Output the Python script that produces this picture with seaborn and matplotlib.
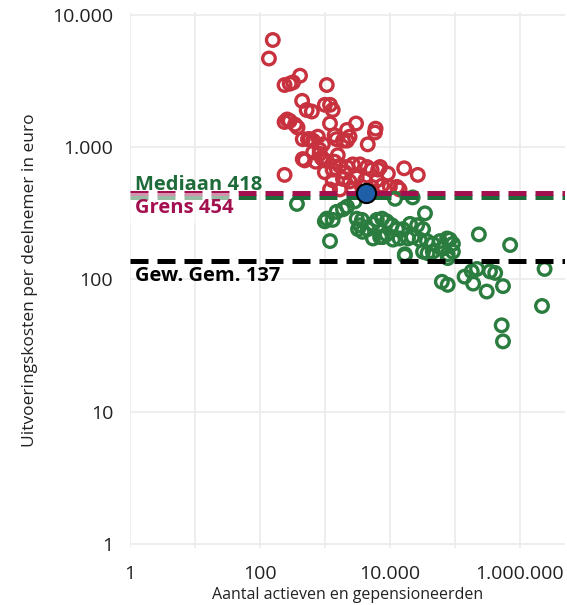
import numpy as np
import pandas as pd
import matplotlib
matplotlib.use("Agg")
import matplotlib.pyplot as plt
import seaborn as sns
from matplotlib.ticker import LogLocator, FuncFormatter, NullFormatter

# fondsen boven de grens (rood)
red_x = [158, 138, 415, 240, 288, 324, 1070, 447, 1000, 1200, 1320, 525, 630,
         263, 240, 288, 347, 380, 1200, 3020, 6030, 2190, 1410, 457, 550, 660,
         933, 832, 2190, 4570, 1580, 457, 891, 1000, 240, 16600, 26900, 6610,
         9330, 12900, 14100, 589, 780, 1510, 1900, 2400, 5890, 490, 832, 933,
         1000, 1320, 1700, 2190, 2690, 3470, 4470, 5250, 7080, 1320, 1900, 2400,
         6310, 7590, 10000, 1200, 1700, 2690, 3090, 4170, 2040, 660, 724, 1410,
         3720, 5250]
red_y = [6460, 4680, 3470, 2950, 3020, 3090, 2950, 2240, 2090, 2090, 1910, 1910,
         1860, 1620, 1550, 1580, 1480, 1410, 1510, 1510, 1380, 1350, 1230, 1150,
         1150, 1120, 1050, 955, 1120, 1050, 870, 813, 832, 794, 617, 692, 617,
         676, 631, 501, 479, 1150, 1200, 1150, 1120, 1200, 1290, 794, 891, 813,
         646, 676, 724, 708, 741, 741, 708, 676, 708, 562, 575, 550, 562, 513,
         501, 479, 479, 479, 589, 562, 646, 912, 776, 776, 501, 501]

# fondsen onder de grens (groen)
green_x = [372, 1070, 1320, 1000, 1200, 1900, 2190, 1510, 3090, 3720, 3470, 3240,
           3800, 4570, 5500, 6310, 7590, 8910, 10700, 12900, 15800, 20400, 26300,
           32400, 34700, 5500, 7080, 8910, 11200, 14100, 19000, 22400, 28800,
           37200, 45700, 58900, 75900, 83200, 93300, 32400, 38000, 45700, 63100,
           77600, 93300, 17000, 2880, 12000, 22400, 7760, 234000, 708000, 17000,
           77600, 63100, 77600, 141000, 182000, 219000, 191000, 347000, 417000,
           309000, 550000, 2400000, 2190000, 525000, 550000]
green_y = [372, 288, 282, 275, 195, 339, 355, 324, 288, 282, 257, 240, 229, 240,
           263, 282, 288, 275, 257, 240, 240, 263, 257, 240, 316, 204, 209, 219,
           200, 204, 204, 209, 200, 195, 186, 195, 204, 200, 186, 162, 158, 162,
           170, 155, 162, 155, 389, 407, 417, 209, 219, 182, 151, 145, 96, 91,
           105, 115, 120, 93, 115, 112, 81, 89, 120, 63, 45, 34]

# het fonds zelf
focus_x = [4270]
focus_y = [454]

mediaan = 418
grens = 454
gew_gem = 137

x_ticks = [1, 10, 100, 1000, 10000, 100000, 1000000]
y_ticks = [1, 10, 100, 1000, 10000]

df = pd.DataFrame({
    "deelnemers": red_x + green_x,
    "kosten": red_y + green_y,
    "groep": ["boven"] * len(red_x) + ["onder"] * len(green_x),
})

sns.set_style("whitegrid")
plt.rcParams["font.family"] = ["Open Sans", "DejaVu Sans"]

fig = plt.figure(figsize=(5.67, 6.05), dpi=100)
ax = fig.add_axes([0.229, 0.094, 0.767, 0.886])

sns.scatterplot(data=df, x="deelnemers", y="kosten", hue="groep",
                palette={"boven": "#c8323f", "onder": "#2a7d3f"},
                marker="o", s=82, linewidth=2.4,
                legend=False, ax=ax, zorder=3)
# open cirkels: randkleur = hue-kleur
for coll in ax.collections:
    fc = coll.get_facecolors()
    coll.set_edgecolors(fc)
    coll.set_facecolors("none")

ax.set_xscale("log")
ax.set_yscale("log")
ax.set_xlim(1, 4.9e6)
ax.set_ylim(0.93, 10500)

ax.axhline(mediaan, color="#1e6b3a", lw=3.6, ls=(0, (3.6, 1.8)), zorder=4)
ax.axhline(grens, color="#a3104f", lw=3.6, ls=(0, (3.6, 1.8)), zorder=4)
ax.axhline(gew_gem, color="black", lw=3.6, ls=(0, (3.6, 1.8)), zorder=4)

sns.scatterplot(x=focus_x, y=focus_y, s=190, color="#1f5fa8",
                edgecolor="black", linewidth=1.5, ax=ax, zorder=5, legend=False)

ax.text(1.2, mediaan * 1.04, f"Mediaan {mediaan}", color="#1e6b3a",
        fontsize=14.5, fontweight="bold", va="bottom", ha="left", zorder=6)
ax.text(1.2, mediaan * 0.985, f"Grens {grens}", color="#a3104f",
        fontsize=14.5, fontweight="bold", va="top", ha="left", zorder=6,
        bbox=dict(boxstyle="square,pad=0.25", facecolor="white",
                  edgecolor="none", alpha=0.55))
ax.text(1.2, gew_gem * 0.93, f"Gew. Gem. {gew_gem}", color="black",
        fontsize=14.5, fontweight="bold", va="top", ha="left", zorder=6)


def nl_fmt(v, pos):
    return f"{int(round(v)):,}".replace(",", ".")


def nl_fmt_even(v, pos):
    if int(round(np.log10(v))) % 2 == 0:
        return nl_fmt(v, pos)
    return ""


ax.set_xticks(x_ticks)
ax.set_yticks(y_ticks)
ax.xaxis.set_major_formatter(FuncFormatter(nl_fmt_even))
ax.yaxis.set_major_formatter(FuncFormatter(nl_fmt))
ax.xaxis.set_minor_locator(LogLocator(base=10, subs=np.arange(2, 10), numticks=50))
ax.yaxis.set_minor_locator(LogLocator(base=10, subs=np.arange(2, 10), numticks=50))
ax.xaxis.set_minor_formatter(NullFormatter())
ax.yaxis.set_minor_formatter(NullFormatter())

ax.grid(True, which="major", color="#ebebeb", lw=1.2)
ax.grid(False, which="minor")
ax.tick_params(axis="both", which="major", length=4, width=1, color="#dddddd",
               labelsize=14, labelcolor="#222222")
ax.tick_params(axis="both", which="minor", length=2, width=1, color="#dddddd")
ax.tick_params(axis="y", pad=8)
ax.tick_params(axis="x", pad=8)
for s in ax.spines.values():
    s.set_visible(False)

ax.set_xlabel("Aantal actieven en gepensioneerden", fontsize=11.5, color="#222222", labelpad=3)
ax.set_ylabel("Uitvoeringskosten per deelnemer in euro", fontsize=12.5, color="#222222", labelpad=10)

fig.savefig("out.png", dpi=100)
